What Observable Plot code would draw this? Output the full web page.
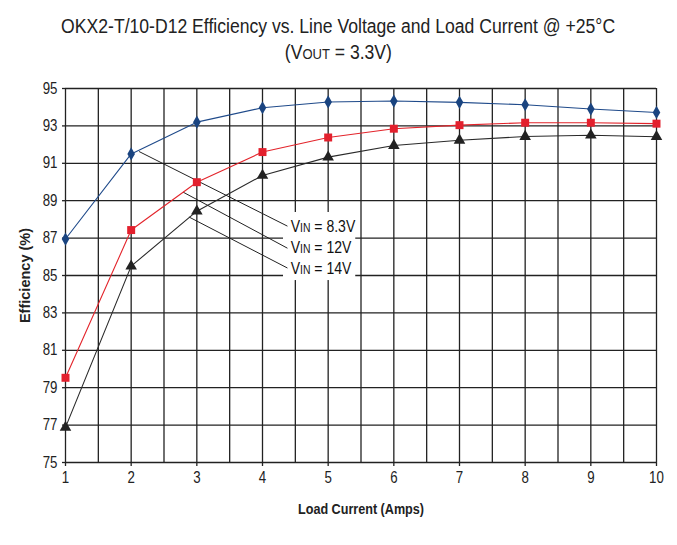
<!DOCTYPE html>
<html>
<head>
<meta charset="utf-8">
<script src="https://cdn.jsdelivr.net/npm/d3@7"></script>
<script src="https://cdn.jsdelivr.net/npm/@observablehq/plot@0.6"></script>
<style>
  body { margin: 0; background: #fff; }
  #wrap { width: 677px; font-family: "Liberation Sans", Arial, sans-serif; color: #222; }
  #title { height: 65px; text-align: center; font-size: 19.5px; line-height: 26px; padding-top: 13px; box-sizing: border-box; }
  #title span.line { display: inline-block; white-space: nowrap; transform-origin: 50% 50%; }
  .sc { font-size: 74%; }
</style>
</head>
<body>
<div id="wrap">
  <div id="title"><span class="line" id="t1">OKX2-T/10-D12 Efficiency vs. Line Voltage and Load Current @ +25°C</span><br><span class="line" id="t2">(V<span class="sc">OUT</span> = 3.3V)</span></div>
  <div id="chart"></div>
</div>
<script>
const loads = [1, 2, 3, 4, 5, 6, 7, 8, 9, 10];
const eff83 = [86.95, 91.5, 93.2, 93.97, 94.28, 94.33, 94.26, 94.13, 93.9, 93.72];
const eff12 = [79.53, 87.43, 89.99, 91.6, 92.38, 92.85, 93.04, 93.17, 93.17, 93.12];
const eff14 = [76.88, 85.5, 88.44, 90.35, 91.33, 91.95, 92.23, 92.43, 92.5, 92.42];
const xTicks = [1, 2, 3, 4, 5, 6, 7, 8, 9, 10];
const xGrid = [1, 1.5, 2, 2.5, 3, 3.5, 4, 4.5, 5, 5.5, 6, 6.5, 7, 7.5, 8, 8.5, 9, 9.5, 10];
const yTicks = [75, 77, 79, 81, 83, 85, 87, 89, 91, 93, 95];
const vinLabels = ["8.3V", "12V", "14V"];
// leader-line anchors (data units): start on the series, end at the label
const leaderX1 = [2.12, 2.79, 2.88];
const leaderY1 = [91.63, 89.46, 88.13];
const leaderX2 = [4.38, 4.38, 4.38];
const leaderY2 = [87.64, 86.46, 85.4];
const labelX = [4.43, 4.43, 4.43];
const labelY = [87.62, 86.5, 85.37];
const boxX = [4.32, 5.42];
const boxY = [84.73, 88.37];

const FONT = '"Liberation Sans", Arial, sans-serif';
const pts = (ys) => loads.map((x, i) => ({x, y: ys[i]}));
const leaders = vinLabels.map((t, i) => ({x1: leaderX1[i], y1: leaderY1[i], x2: leaderX2[i], y2: leaderY2[i]}));
const labels = vinLabels.map((t, i) => ({x: labelX[i], y: labelY[i], text: "VIN = " + t}));

const svg = Plot.plot({
  width: 677,
  height: 480,
  marginTop: 23,
  marginBottom: 83,
  marginLeft: 65,
  marginRight: 21,
  style: {fontFamily: FONT, fontSize: "15px", color: "#222", background: "white", overflow: "visible"},
  x: {domain: [1, 10]},
  y: {domain: [75, 95]},
  marks: [
    Plot.ruleX(xGrid, {stroke: "#222", strokeWidth: 1.3}),
    Plot.ruleY(yTicks, {stroke: "#222", strokeWidth: 1.3}),
    Plot.rect([{}], {x1: () => boxX[0], x2: () => boxX[1], y1: () => boxY[0], y2: () => boxY[1], fill: "white"}),
    Plot.link(leaders, {x1: "x1", y1: "y1", x2: "x2", y2: "y2", stroke: "#222", strokeWidth: 1}),
    Plot.axisX({ticks: xTicks, tickSize: 4, tickPadding: 5, tickFormat: d => d, fontSize: 16, label: null, stroke: "#222", strokeWidth: 1.3}),
    Plot.axisY({ticks: yTicks, tickSize: 3, tickPadding: 5, tickFormat: d => d, fontSize: 16, label: null, stroke: "#222", strokeWidth: 1.3}),
    Plot.text(["Efficiency (%)"], {frameAnchor: "left", textAnchor: "middle", dx: -40, rotate: -90, fontWeight: "bold", fontSize: 14.5, fill: "#222"}),
    Plot.text(["Load Current (Amps)"], {frameAnchor: "bottom", dy: 51, fontWeight: "bold", fontSize: 14.5, fill: "#222"}),
    Plot.line(pts(eff83), {x: "x", y: "y", stroke: "#1f4a8a", strokeWidth: 1.1}),
    Plot.line(pts(eff12), {x: "x", y: "y", stroke: "#e3242b", strokeWidth: 1.1}),
    Plot.line(pts(eff14), {x: "x", y: "y", stroke: "#2a2a2a", strokeWidth: 1.1}),
    Plot.dot(pts(eff83), {x: "x", y: "y", symbol: "diamond", r: 4, fill: "#1a4480", stroke: "none"}),
    Plot.dot(pts(eff12), {x: "x", y: "y", symbol: "square", r: 4.5, fill: "#e3202d", stroke: "none"}),
    Plot.dot(pts(eff14), {x: "x", y: "y", symbol: "triangle", r: 4.3, fill: "#222", stroke: "none"}),
    Plot.text(labels, {x: "x", y: "y", text: "text", textAnchor: "start", fontSize: 16.5, fill: "#111"})
  ]
});
document.getElementById("chart").appendChild(svg);

// condensed look: horizontal scaling of text about its anchor
d3.select(svg).selectAll("text").each(function() {
  const t = d3.select(this);
  const s = t.text();
  let k = 0.83;
  if (s.startsWith("VIN")) {
    k = 0.85;
    const rest = s.replace(/^VIN/, "");
    t.text(null);
    t.append("tspan").text("V");
    t.append("tspan").attr("font-size", "74%").text("IN");
    t.append("tspan").text(rest);
  } else if (s === "Load Current (Amps)") {
    k = 0.87;
  } else if (s === "Efficiency (%)") {
    k = 1.0;
  }
  const tr = t.attr("transform") || "";
  t.attr("transform", (tr + ` scale(${k},1)`).trim());
});

// fit the title line to the reference width
const t1 = document.getElementById("t1");
const w1 = t1.getBoundingClientRect().width;
const k1 = 554 / w1;
t1.style.transform = `scaleX(${k1})`;
document.getElementById("t2").style.transform = `scaleX(${k1})`;
</script>
</body>
</html>
